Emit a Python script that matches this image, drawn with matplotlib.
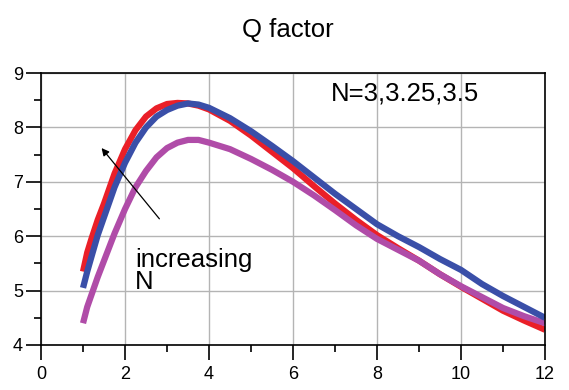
import matplotlib
matplotlib.use("Agg")
import matplotlib.pyplot as plt
from matplotlib.ticker import MultipleLocator

plt.rcParams['font.family'] = ['Liberation Sans', 'DejaVu Sans']

x = [1.0, 1.1, 1.2, 1.35, 1.5, 1.75, 2.0, 2.25, 2.5, 2.75, 3.0, 3.25, 3.5, 3.75,
     4.0, 4.5, 5.0, 5.5, 6.0, 6.5, 7.0, 7.5, 8.0, 8.5, 9.0, 9.5, 10.0, 10.5,
     11.0, 11.5, 12.0]

q_red = [5.35, 5.7, 5.95, 6.3, 6.6, 7.15, 7.6, 7.95, 8.2, 8.35, 8.43, 8.45, 8.44,
         8.4, 8.33, 8.12, 7.85, 7.55, 7.25, 6.92, 6.6, 6.3, 6.02, 5.78, 5.55,
         5.3, 5.07, 4.85, 4.63, 4.45, 4.28]
q_blue = [5.05, 5.35, 5.62, 6.02, 6.35, 6.9, 7.35, 7.72, 8.0, 8.2, 8.32, 8.4, 8.44,
          8.42, 8.36, 8.17, 7.93, 7.66, 7.38, 7.08, 6.78, 6.5, 6.22, 6.0, 5.8,
          5.58, 5.38, 5.12, 4.9, 4.7, 4.5]
q_magenta = [4.4, 4.7, 4.92, 5.25, 5.55, 6.05, 6.5, 6.9, 7.2, 7.45, 7.62, 7.72,
             7.77, 7.77, 7.72, 7.6, 7.42, 7.22, 7.0, 6.75, 6.48, 6.2, 5.95, 5.75,
             5.55, 5.3, 5.08, 4.88, 4.68, 4.53, 4.4]

fig = plt.figure(figsize=(5.69, 3.90), dpi=100)
ax = fig.add_axes([0.0721, 0.1154, 0.8858, 0.6974])

lw = 4.5
ax.plot(x, q_red, color='#ea1f28', lw=lw, solid_capstyle='butt')
ax.plot(x, q_magenta, color='#b04ca8', lw=lw, solid_capstyle='butt')
ax.plot(x, q_blue, color='#3a4fa8', lw=lw, solid_capstyle='butt')

ax.set_xlim(0, 12)
ax.set_ylim(4, 9)
ax.xaxis.set_major_locator(MultipleLocator(2))
ax.xaxis.set_minor_locator(MultipleLocator(1))
ax.yaxis.set_major_locator(MultipleLocator(1))
ax.yaxis.set_minor_locator(MultipleLocator(0.5))
ax.tick_params(which='major', direction='out', length=11, width=1.2,
               labelsize=13, pad=4)
ax.tick_params(which='minor', direction='out', length=5, width=1.2)
ax.tick_params(axis='y', which='major', pad=2)
ax.grid(True, which='major', color='#b4b4b4', lw=1)
ax.set_axisbelow(True)
for s in ax.spines.values():
    s.set_linewidth(1.2)

ax.set_title('Q factor', fontsize=18.5, pad=26, x=0.49)

ax.text(6.9, 8.85, 'N=3,3.25,3.5', fontsize=18.5, va='top', ha='left')
ax.text(2.24, 4.93, 'increasing\nN', fontsize=18.5, va='bottom', ha='left',
        linespacing=0.92)
ax.annotate('', xy=(1.4, 7.66), xytext=(2.86, 6.28),
            arrowprops=dict(arrowstyle='-|>', color='black', lw=0.9,
                            mutation_scale=11))

fig.savefig('out.png', dpi=100)
